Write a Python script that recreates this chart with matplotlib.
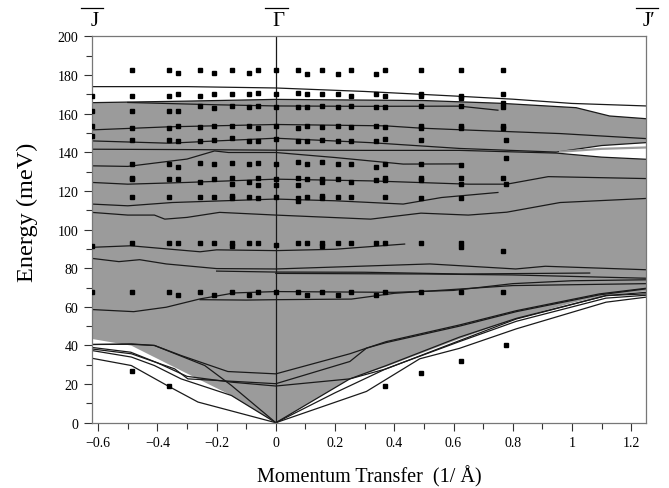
import numpy as np
import matplotlib
matplotlib.use("Agg")
import matplotlib.pyplot as plt
import matplotlib.transforms as mtransforms

plt.rcParams['font.family'] = ['Liberation Serif', 'DejaVu Serif']
plt.rcParams['mathtext.fontset'] = 'stix'

# ---------------- data ----------------
x_min, x_max = -0.622, 1.25
y_min, y_max = 0, 200

# experimental points: columns of momentum with energies
exp_q = [-0.622, -0.487, -0.36, -0.33, -0.255, -0.209, -0.149, -0.09, -0.06, 0.0,
         0.075, 0.106, 0.157, 0.21, 0.255, 0.337, 0.368, 0.49, 0.626, 0.767, 0.778]
exp_E = [
    [169.2, 161.4, 153.6, 148.2, 91.6, 67.9],
    [182.6, 169.2, 161.4, 152.7, 146.4, 133.9, 126.6, 126.1, 116.6, 92.9, 67.9, 26.7],
    [182.6, 169.2, 161.4, 152.7, 146.4, 133.9, 126.1, 116.6, 92.9, 67.9, 19.0],
    [181.2, 170.0, 161.4, 153.6, 145.6, 132.5, 126.1, 92.9, 66.1],
    [182.6, 169.2, 163.9, 153.0, 145.6, 134.7, 124.7, 116.6, 92.9, 67.9],
    [181.2, 170.0, 162.7, 153.6, 146.4, 133.9, 126.1, 116.6, 92.9, 66.1],
    [182.6, 170.0, 163.9, 153.6, 147.3, 134.7, 126.9, 123.8, 117.5, 116.1, 92.9, 91.6, 67.9],
    [181.2, 170.0, 163.5, 153.6, 145.9, 133.9, 124.7, 116.6, 92.9, 66.1],
    [182.6, 170.9, 163.9, 152.7, 145.9, 134.7, 126.6, 123.0, 116.1, 92.9, 67.9],
    [182.6, 170.0, 163.5, 153.6, 146.7, 133.9, 126.1, 123.0, 116.6, 92.2, 67.9],
    [182.6, 170.9, 163.2, 152.7, 145.6, 135.0, 126.9, 123.0, 116.1, 114.9, 92.9, 67.9],
    [180.4, 170.0, 163.2, 153.6, 145.6, 133.9, 126.1, 116.6, 92.9, 66.1],
    [182.6, 170.0, 163.9, 153.0, 146.4, 135.0, 126.1, 124.5, 117.5, 116.1, 92.9, 91.6, 67.9],
    [180.4, 170.0, 163.2, 153.6, 145.9, 133.7, 126.1, 116.6, 92.9, 66.1],
    [182.6, 169.2, 163.9, 153.0, 145.9, 133.9, 124.5, 116.6, 92.9, 67.9],
    [180.4, 170.0, 163.2, 153.6, 145.9, 132.5, 125.8, 92.9, 66.1],
    [182.6, 169.2, 163.2, 153.0, 146.7, 133.7, 126.6, 125.8, 116.6, 92.9, 67.9, 19.0],
    [182.6, 170.0, 169.2, 163.9, 153.6, 152.7, 146.4, 133.9, 126.6, 125.8, 116.4, 92.9, 67.9, 25.8],
    [182.6, 169.2, 168.3, 163.9, 153.6, 152.7, 133.2, 126.6, 123.5, 116.4, 92.9, 90.8, 67.9, 32.2],
    [182.6, 170.0, 165.3, 163.6, 153.6, 152.7, 126.6, 88.9, 67.9],
    [146.4, 137.0, 123.5, 40.0],
]

# shaded (projected bulk band) region
band_top_q = [-0.622, -0.3, 0.0, 0.5, 0.756, 1.014, 1.127, 1.25]
band_top_E = [165.7, 166.5, 167.4, 166.8, 165.4, 163.1, 158.8, 157.4]
band_bot_q = [-0.622, -0.488, -0.32, -0.162, 0.0, 0.25, 0.373, 0.587, 0.812, 1.0, 1.115, 1.25]
band_bot_E = [43.4, 39.9, 27.0, 15.0, 0.0, 22.7, 29.0, 41.5, 54.0, 62.0, 66.0, 68.0]

# calculated dispersion curves (q, E)
curves = {
    "A": ([-0.622, -0.3, 0.0, 0.3, 0.62, 0.8, 1.0, 1.25],
          [174.0, 174.0, 173.3, 171.5, 169.0, 167.5, 165.3, 164.0]),
    "B": (band_top_q, band_top_E),
    "C": ([-0.50, -0.2, 0.0, 0.3, 0.62, 0.75],
          [165.8, 164.6, 164.0, 163.8, 163.9, 161.8]),
    "D": ([-0.622, -0.36, 0.0, 0.37, 0.49, 0.65, 0.96, 1.25],
          [151.6, 153.2, 154.4, 153.7, 152.5, 151.5, 149.7, 147.1]),
    "E": ([-0.622, -0.36, -0.2, 0.0, 0.32, 0.62, 0.947, 1.1, 1.25],
          [145.9, 144.7, 145.9, 147.3, 145.0, 142.0, 140.1, 143.5, 145.0]),
    "F": ([-0.622, -0.3, 0.0, 0.3, 0.62, 0.947, 1.1, 1.25],
          [141.6, 141.4, 141.1, 141.0, 141.0, 139.6, 137.5, 136.4]),
    "G": ([-0.622, -0.5, -0.3, -0.207, -0.16, 0.0, 0.2, 0.43, 0.63],
          [133.0, 132.7, 136.5, 140.7, 139.9, 139.9, 137.3, 133.9, 134.0]),
    "H": ([-0.622, -0.5, -0.3, 0.0, 0.32, 0.65, 0.78, 0.92, 1.25],
          [124.4, 123.5, 124.4, 126.1, 125.2, 123.5, 123.5, 127.4, 126.4]),
    "I": ([-0.622, -0.5, -0.35, 0.0, 0.2, 0.43, 0.56, 0.75],
          [113.2, 112.3, 114.0, 115.8, 114.9, 113.2, 116.6, 119.2]),
    "J": ([-0.622, -0.5, -0.41, -0.375, -0.3, -0.19, 0.0, 0.32, 0.49, 0.65, 0.78, 0.96, 1.25],
          [108.9, 107.5, 107.5, 105.4, 106.3, 108.9, 107.5, 105.4, 108.5, 107.5, 109.0, 114.0, 116.1]),
    "K": ([-0.622, -0.49, -0.256, -0.2, 0.0, 0.2, 0.435],
          [90.8, 91.6, 88.5, 89.5, 89.1, 89.8, 92.5]),
    "L1": ([-0.622, -0.53, -0.46, -0.37, -0.2, 0.0, 0.18, 0.52, 0.81, 0.91, 1.25],
           [85.1, 83.4, 84.4, 82.2, 79.8, 79.6, 80.5, 82.2, 79.6, 81.0, 79.2]),
    "L2": ([-0.2, 0.0, 0.3, 0.63, 1.06],
           [78.5, 78.0, 77.9, 77.0, 77.5]),
    "L3": ([0.0, 0.5, 0.8, 1.25],
           [77.3, 77.0, 76.5, 74.8]),
    "N1": ([-0.622, -0.48, -0.37, -0.256, -0.14, 0.0, 0.2, 0.4, 0.6, 0.8, 1.0, 1.25],
           [58.6, 57.5, 59.8, 64.1, 67.2, 67.9, 67.7, 67.5, 68.5, 72.0, 73.5, 74.0]),
    "N2": ([-0.256, -0.1, 0.0, 0.255, 0.4, 0.6, 0.8, 1.25],
           [63.7, 63.5, 63.7, 64.0, 67.0, 69.0, 71.0, 72.0]),
    "Q1": ([-0.622, -0.488, -0.41, -0.32, -0.162, 0.0, 0.25, 0.306, 0.373, 0.62, 0.812, 1.093, 1.25],
           [40.5, 40.8, 40.0, 34.8, 26.5, 25.3, 35.7, 38.6, 42.0, 50.6, 58.0, 66.7, 69.6]),
    "Q2": ([-0.622, -0.488, -0.342, -0.297, 0.0, 0.25, 0.306, 0.373, 0.62, 0.812, 1.093, 1.25],
           [38.2, 35.7, 27.9, 22.7, 20.2, 31.7, 38.6, 41.5, 50.0, 57.5, 66.2, 69.3]),
    "Q3": ([-0.622, -0.49, -0.4, -0.3, -0.15, 0.0, 0.25, 0.373, 0.62, 0.812, 1.115, 1.25],
           [39.0, 36.5, 31.0, 24.0, 21.0, 19.0, 22.7, 27.9, 42.5, 53.7, 65.8, 66.7]),
    "Q4": ([-0.622, -0.488, -0.41, -0.24, -0.15, 0.0, 0.25, 0.373, 0.62, 0.812, 1.115, 1.25],
           [40.5, 40.6, 40.0, 29.6, 19.3, 0.0, 22.7, 29.6, 44.3, 54.0, 65.8, 67.5]),
    "Q5": ([-0.622, -0.488, -0.41, -0.32, -0.15, 0.0, 0.2, 0.373, 0.62, 0.812, 1.115, 1.25],
           [37.4, 34.0, 29.6, 22.7, 14.1, 0.0, 15.5, 28.0, 42.0, 52.5, 64.5, 66.0]),
    "Q6": ([-0.622, -0.488, -0.364, -0.263, 0.0, 0.306, 0.486, 0.62, 0.812, 1.115, 1.25],
           [33.4, 29.6, 19.0, 10.7, 0.0, 16.2, 33.1, 38.5, 48.6, 62.4, 65.0]),
}
# thin gray line inside the gap near J'
gap_mid_q = [0.96, 1.1, 1.25]
gap_mid_E = [140.3, 141.8, 142.5]

x_ticks = [-0.6, -0.4, -0.2, 0, 0.2, 0.4, 0.6, 0.8, 1, 1.2]
x_tick_labels = ["\u22120.6", "\u22120.4", "\u22120.2", "0", "0.2", "0.4", "0.6", "0.8", "1", "1.2"]
y_ticks = [0, 20, 40, 60, 80, 100, 120, 140, 160, 180, 200]
sym_labels = [(-0.622, "J"), (0.0, "\u0393"), (1.25, "J\u2032")]

# ---------------- figure ----------------
fig = plt.figure(figsize=(6.69, 4.89), dpi=100)
ax = fig.add_axes([0.137, 0.1335, 0.8286, 0.790])

shade = '#9b9b9b'
poly_q = list(band_top_q) + list(band_bot_q[::-1])
poly_E = list(band_top_E) + list(band_bot_E[::-1])
ax.fill(poly_q, poly_E, color=shade, lw=0, zorder=1)

# white gap between curves E and F beyond the anticrossing
eq, ee = curves["E"]
fq, fe = curves["F"]
gq = [q for q in eq if q >= 0.947] + [q for q in fq if q >= 0.947][::-1]
ge = [e for q, e in zip(eq, ee) if q >= 0.947] + [e for q, e in zip(fq, fe) if q >= 0.947][::-1]
ax.fill(gq, ge, color='white', lw=0, zorder=1.5)

for name, (qs, es) in curves.items():
    ax.plot(qs, es, color='#1a1a1a', lw=0.9, zorder=2)
ax.plot(gap_mid_q, gap_mid_E, color=shade, lw=1.6, zorder=2)

ax.axvline(0, color='#1a1a1a', lw=0.9, zorder=2)

for q, es in zip(exp_q, exp_E):
    ax.plot([q] * len(es), es, ls='none', marker='s', ms=3.4, color='black', zorder=3)

ax.set_xlim(x_min, x_max)
ax.set_ylim(y_min, y_max)
ax.set_xticks(x_ticks)
ax.set_xticklabels(x_tick_labels)
ax.set_yticks(y_ticks)
ax.set_xticks(np.arange(-0.6, 1.25, 0.1), minor=True)
ax.set_yticks(np.arange(10, 200, 20), minor=True)
ax.tick_params(which='major', direction='out', length=6, width=0.8, labelsize=10, colors='#333333')
ax.tick_params(which='minor', direction='out', length=4, width=0.8, colors='#333333')
for lab in ax.get_xticklabels() + ax.get_yticklabels():
    lab.set_color('black')
for sp in ax.spines.values():
    sp.set_color('#777777')
    sp.set_linewidth(0.9)

ax.set_ylabel("Energy (meV)", fontsize=17.5)
ax.yaxis.label.set_verticalalignment('baseline')
ax.yaxis.set_label_coords(-0.106, 0.548)
ax.set_xlabel("Momentum Transfer  (1/ \u00c5)", fontsize=14.5)
ax.xaxis.label.set_verticalalignment('baseline')
ax.xaxis.set_label_coords(0.5, -0.151)

trans = mtransforms.blended_transform_factory(ax.transData, ax.transAxes)
for q, lab in sym_labels:
    ax.text(q + 0.01, 1.042, lab, transform=trans, ha='center', va='center', fontsize=15, clip_on=False)
    ax.plot([q - 0.035, q + 0.04], [1.0725, 1.0725], transform=trans, color='black', lw=0.9, clip_on=False)

fig.savefig("out.png", dpi=100)
